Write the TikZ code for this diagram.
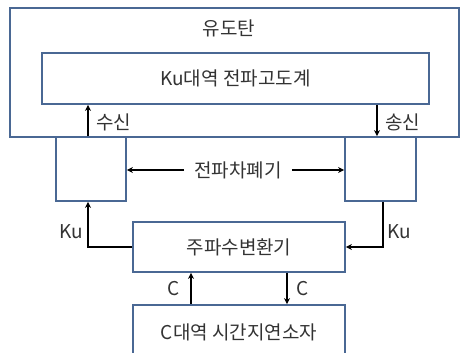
\documentclass[tikz,border=0pt]{standalone}
\usepackage{fontspec}
\setmainfont{Noto Sans CJK KR}
\usetikzlibrary{arrows.meta}
\definecolor{boxc}{HTML}{4A6894}
\definecolor{txt}{HTML}{333333}
\begin{document}
\begin{tikzpicture}[x=1pt,y=-1pt,
  box/.style={draw=boxc,line width=1.8pt,rectangle,inner sep=0pt},
  lbl/.style={text=txt,font=\fontsize{19}{22}\selectfont,inner sep=0pt},
  arr/.style={draw=black,line width=1.6pt,-{Stealth[length=6pt,width=6pt]}}]
\clip (0,0) rectangle (461,353);
\node[box,minimum width=449pt,minimum height=129pt] (outer) at (234.5,72.5) {};
\node[lbl] (title) at (229,28) {유도탄};
\node[box,minimum width=387pt,minimum height=51pt,lbl] (inner) at (235.5,78.5) {Ku대역 전파고도계};
\node[box,minimum width=70pt,minimum height=64pt] (leftbox) at (91,169) {};
\node[box,minimum width=71pt,minimum height=64pt] (rightbox) at (380.5,169) {};
\node[box,minimum width=212pt,minimum height=50pt,lbl] (conv) at (239,247) {주파수변환기};
\node[box,minimum width=212pt,minimum height=65pt] (bottom) at (239,337.5) {};
\node[lbl] (btext) at (239,332) {C대역 시간지연소자};
\node[lbl] (shield) at (238,170) {전파차폐기};
% arrows
\draw[arr] ([xshift=-3pt]leftbox.north) -- ([xshift=-3pt]leftbox.north |- inner.south);
\node[lbl,anchor=west] (rx) at (96,122) {수신};
\draw[arr] ([xshift=-3.5pt]rightbox.north |- inner.south) -- ([xshift=-3.5pt]rightbox.north);
\node[lbl,anchor=west] (tx) at (385,122) {송신};
\draw[arr] ([xshift=-10pt]shield.west) -- (leftbox.east |- shield.west);
\draw[arr] ([xshift=10pt]shield.east) -- (rightbox.west |- shield.east);
\draw[arr] (conv.west) -| ([xshift=-3pt]leftbox.south);
\node[lbl] (ku1) at (71,232) {Ku};
\draw[arr] ([xshift=2.5pt]rightbox.south) |- (conv.east);
\node[lbl] (ku2) at (399,232) {Ku};
\draw[arr] ([xshift=-48pt]bottom.north) -- ([xshift=-48pt]conv.south);
\node[lbl] (c1) at (174,289) {C};
\draw[arr] ([xshift=48pt]conv.south) -- ([xshift=48pt]bottom.north);
\node[lbl] (c2) at (303,289) {C};
\end{tikzpicture}
\end{document}
